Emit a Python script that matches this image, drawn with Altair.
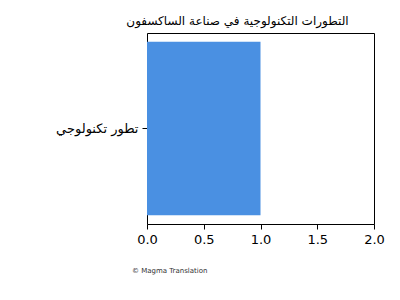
import altair as alt
import pandas as pd

# Chart data
categories = ["تطور تكنولوجي"]
values = [1.0]
x_ticks = [0.0, 0.5, 1.0, 1.5, 2.0]

title_text = "التطورات التكنولوجية في صناعة الساكسفون"
footer_text = "© Magma Translation"

df = pd.DataFrame({"category": categories, "value": values})
FONT = "DejaVu Sans"

x_scale = alt.Scale(domain=[0, 2], nice=False, zero=True)
y_scale = alt.Scale(paddingInner=0, paddingOuter=0.05)

bars = alt.Chart(df).mark_bar(color="#4a90e2").encode(
    x=alt.X(
        "value:Q",
        scale=x_scale,
        axis=alt.Axis(
            title=None, values=x_ticks, format=".1f", grid=False,
            domainColor="black", tickColor="black", tickSize=5,
            labelColor="black", labelFontSize=13, labelFont=FONT,
            labelPadding=4, labelFlush=False,
        ),
    ),
    y=alt.Y(
        "category:N",
        scale=y_scale,
        axis=alt.Axis(
            title=None, domainColor="black", tickColor="black", tickSize=5,
            labelColor="black", labelFontSize=13, labelFont=FONT,
            labelPadding=4, labelLimit=300,
        ),
    ),
)

# Top and right spines closing the frame
frame = alt.Chart(df).mark_bar(opacity=0).encode(
    x=alt.X(
        "value:Q", scale=x_scale,
        axis=alt.Axis(orient="top", title=None, labels=False, ticks=False,
                      grid=False, domainColor="black"),
    ),
    y=alt.Y(
        "category:N", scale=y_scale,
        axis=alt.Axis(orient="right", title=None, labels=False, ticks=False,
                      grid=False, domainColor="black"),
    ),
)

footer = alt.Chart(pd.DataFrame({"t": [footer_text]})).mark_text(
    align="left", baseline="middle", fontSize=7, font=FONT, color="#333333"
).encode(x=alt.value(-15), y=alt.value(238), text="t:N")

chart = (
    alt.layer(bars, frame, footer)
    .resolve_axis(x="independent", y="independent")
    .properties(
        width=227,
        height=191,
        padding={"left": 147, "top": 33, "right": 26, "bottom": 76},
        autosize=alt.AutoSizeParams(type="none"),
        title=alt.TitleParams(
            text=title_text, font=FONT, fontSize=12, fontWeight="normal",
            color="black", anchor="middle", dx=-23, offset=5,
        ),
    )
    .configure_view(stroke=None)
    .configure(background="white")
)

chart.save("out.html", embed_options={"renderer": "svg", "actions": False})
